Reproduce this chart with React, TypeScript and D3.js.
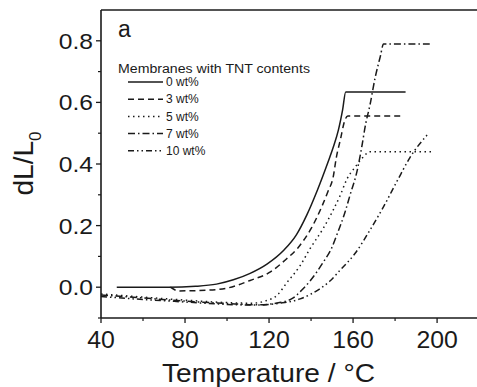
import React from "react";
import * as d3 from "d3";

type Pt = [number, number];

const seriesLabels = ["0 wt%", "3 wt%", "5 wt%", "7 wt%", "10 wt%"];
const dashPatterns = ["none", "6,4", "1.5,3.5", "7,3,1.5,3", "6,3,1.5,3,1.5,3"];

const wt0: Pt[] = [
  [47.5, 0], [60, 0], [72, 0], [85, 0.003], [95, 0.01], [103, 0.024], [111, 0.045],
  [119, 0.075], [127, 0.12], [133, 0.17], [138, 0.235], [143, 0.315], [148, 0.405],
  [150.6, 0.455], [153, 0.51], [155, 0.575], [156.5, 0.634], [185, 0.634],
];
const wt3: Pt[] = [
  [73, 0], [77, -0.012], [90, -0.01], [100, -0.003], [111, 0.022], [120, 0.047],
  [128, 0.09], [134, 0.13], [140, 0.19], [145, 0.26], [148, 0.31], [150.6, 0.36],
  [152, 0.42], [154, 0.48], [156, 0.54], [157.5, 0.556], [183, 0.556],
];
const wt5: Pt[] = [
  [40, -0.022], [60, -0.032], [80, -0.042], [100, -0.05], [112, -0.052], [118, -0.045],
  [124, -0.025], [128.5, 0.015], [134.8, 0.07], [139.5, 0.125], [145.7, 0.19],
  [150.5, 0.25], [154, 0.3], [157, 0.35], [161, 0.39], [164.5, 0.42], [168, 0.44], [198, 0.44],
];
const wt7: Pt[] = [
  [40, -0.025], [60, -0.035], [80, -0.045], [100, -0.053], [115, -0.057], [125, -0.05],
  [131.5, -0.035], [135.5, -0.01], [139.5, 0.02], [145.7, 0.08], [150, 0.13], [152, 0.165],
  [156, 0.24], [158.6, 0.3], [162, 0.38], [164, 0.45], [166, 0.53], [168, 0.59],
  [170.5, 0.68], [173, 0.75], [174.5, 0.79], [196.5, 0.79],
];
const wt10: Pt[] = [
  [40, -0.03], [60, -0.04], [80, -0.048], [100, -0.056], [115, -0.058], [125, -0.052],
  [134.8, -0.038], [140, -0.022], [144, -0.006], [149, 0.02], [153.8, 0.055], [161, 0.11],
  [168, 0.185], [174, 0.255], [181, 0.345], [187, 0.42], [196, 0.5],
];
const seriesData: Pt[][] = [wt0, wt3, wt5, wt7, wt10];

const xTicks = [40, 80, 120, 160, 200];
const xMinor = [60, 100, 140, 180, 220];
const yTicks = [0.0, 0.2, 0.4, 0.6, 0.8];
const yMinor = [-0.1, 0.1, 0.3, 0.5, 0.7];

const FONT = "'Liberation Sans', Arial, Helvetica, sans-serif";
const INK = "#1a1a1a";

export default function App() {
  const W = 477, H = 387;
  const left = 101, right = 477, top = 10, bottom = 318;
  const x = d3.scaleLinear().domain([40, 219]).range([left, right]);
  const y = d3.scaleLinear().domain([-0.1, 0.9]).range([bottom, top]);
  const line = d3.line<Pt>().x((d) => x(d[0])).y((d) => y(d[1])).curve(d3.curveMonotoneX);

  const legX0 = 128, legX1 = 163, legRows = [82, 99.2, 116.4, 133.6, 150.8];

  return (
    <svg width={W} height={H} style={{ position: "absolute", left: 0, top: 0, background: "#fff" }} fontFamily={FONT}>
      <rect x={0} y={0} width={W} height={H} fill="#fff" />
      {seriesData.map((s, i) => (
        <path key={i} d={line(s) || ""} fill="none" stroke={INK} strokeWidth={1.5}
          strokeDasharray={dashPatterns[i] === "none" ? undefined : dashPatterns[i]} />
      ))}
      <line x1={left} x2={left} y1={top} y2={bottom} stroke={INK} strokeWidth={1.6} />
      <line x1={left} x2={right} y1={bottom} y2={bottom} stroke={INK} strokeWidth={1.6} />
      <line x1={left} x2={right} y1={top} y2={top} stroke={INK} strokeWidth={1.6} />
      {xTicks.map((t) => (
        <g key={"xt" + t}>
          <line x1={x(t)} x2={x(t)} y1={bottom} y2={bottom + 5} stroke={INK} strokeWidth={1.3} />
          <text transform={`translate(${x(t)},348) scale(1.08,1)`} textAnchor="middle" fontSize={23} fill={INK}>{t}</text>
        </g>
      ))}
      {xMinor.filter((t) => x(t) <= right).map((t) => (
        <line key={"xm" + t} x1={x(t)} x2={x(t)} y1={bottom} y2={bottom + 3} stroke={INK} strokeWidth={1.2} />
      ))}
      {yTicks.map((t) => (
        <g key={"yt" + t}>
          <line x1={left - 5} x2={left} y1={y(t)} y2={y(t)} stroke={INK} strokeWidth={1.3} />
          <text transform={`translate(93,${y(t)}) scale(1.12,1)`} textAnchor="end" dy="0.36em" fontSize={22} fill={INK}>{t.toFixed(1)}</text>
        </g>
      ))}
      {yMinor.map((t) => (
        <line key={"ym" + t} x1={left - 3} x2={left} y1={y(t)} y2={y(t)} stroke={INK} strokeWidth={1.2} />
      ))}
      <text x={268.5} y={382} textAnchor="middle" fontSize={26} fill={INK} textLength={213} lengthAdjust="spacingAndGlyphs">
        Temperature / °C
      </text>
      <text transform="translate(33,163.5) rotate(-90)" textAnchor="middle" fontSize={28} fill={INK}>
        dL/L<tspan fontSize={17} dy={8}>0</tspan>
      </text>
      <text x={118} y={37} fontSize={23} fill={INK}>a</text>
      <text x={118} y={72.5} fontSize={12} fill={INK} textLength={192} lengthAdjust="spacingAndGlyphs">
        Membranes with TNT contents
      </text>
      {seriesLabels.map((lab, i) => (
        <g key={"lg" + i}>
          <line x1={legX0} x2={legX1} y1={legRows[i]} y2={legRows[i]} stroke={INK} strokeWidth={1.5}
            strokeDasharray={dashPatterns[i] === "none" ? undefined : dashPatterns[i]} />
          <text x={legX1 + 3} y={legRows[i]} dy="0.35em" fontSize={12} fill={INK}>{lab}</text>
        </g>
      ))}
    </svg>
  );
}
